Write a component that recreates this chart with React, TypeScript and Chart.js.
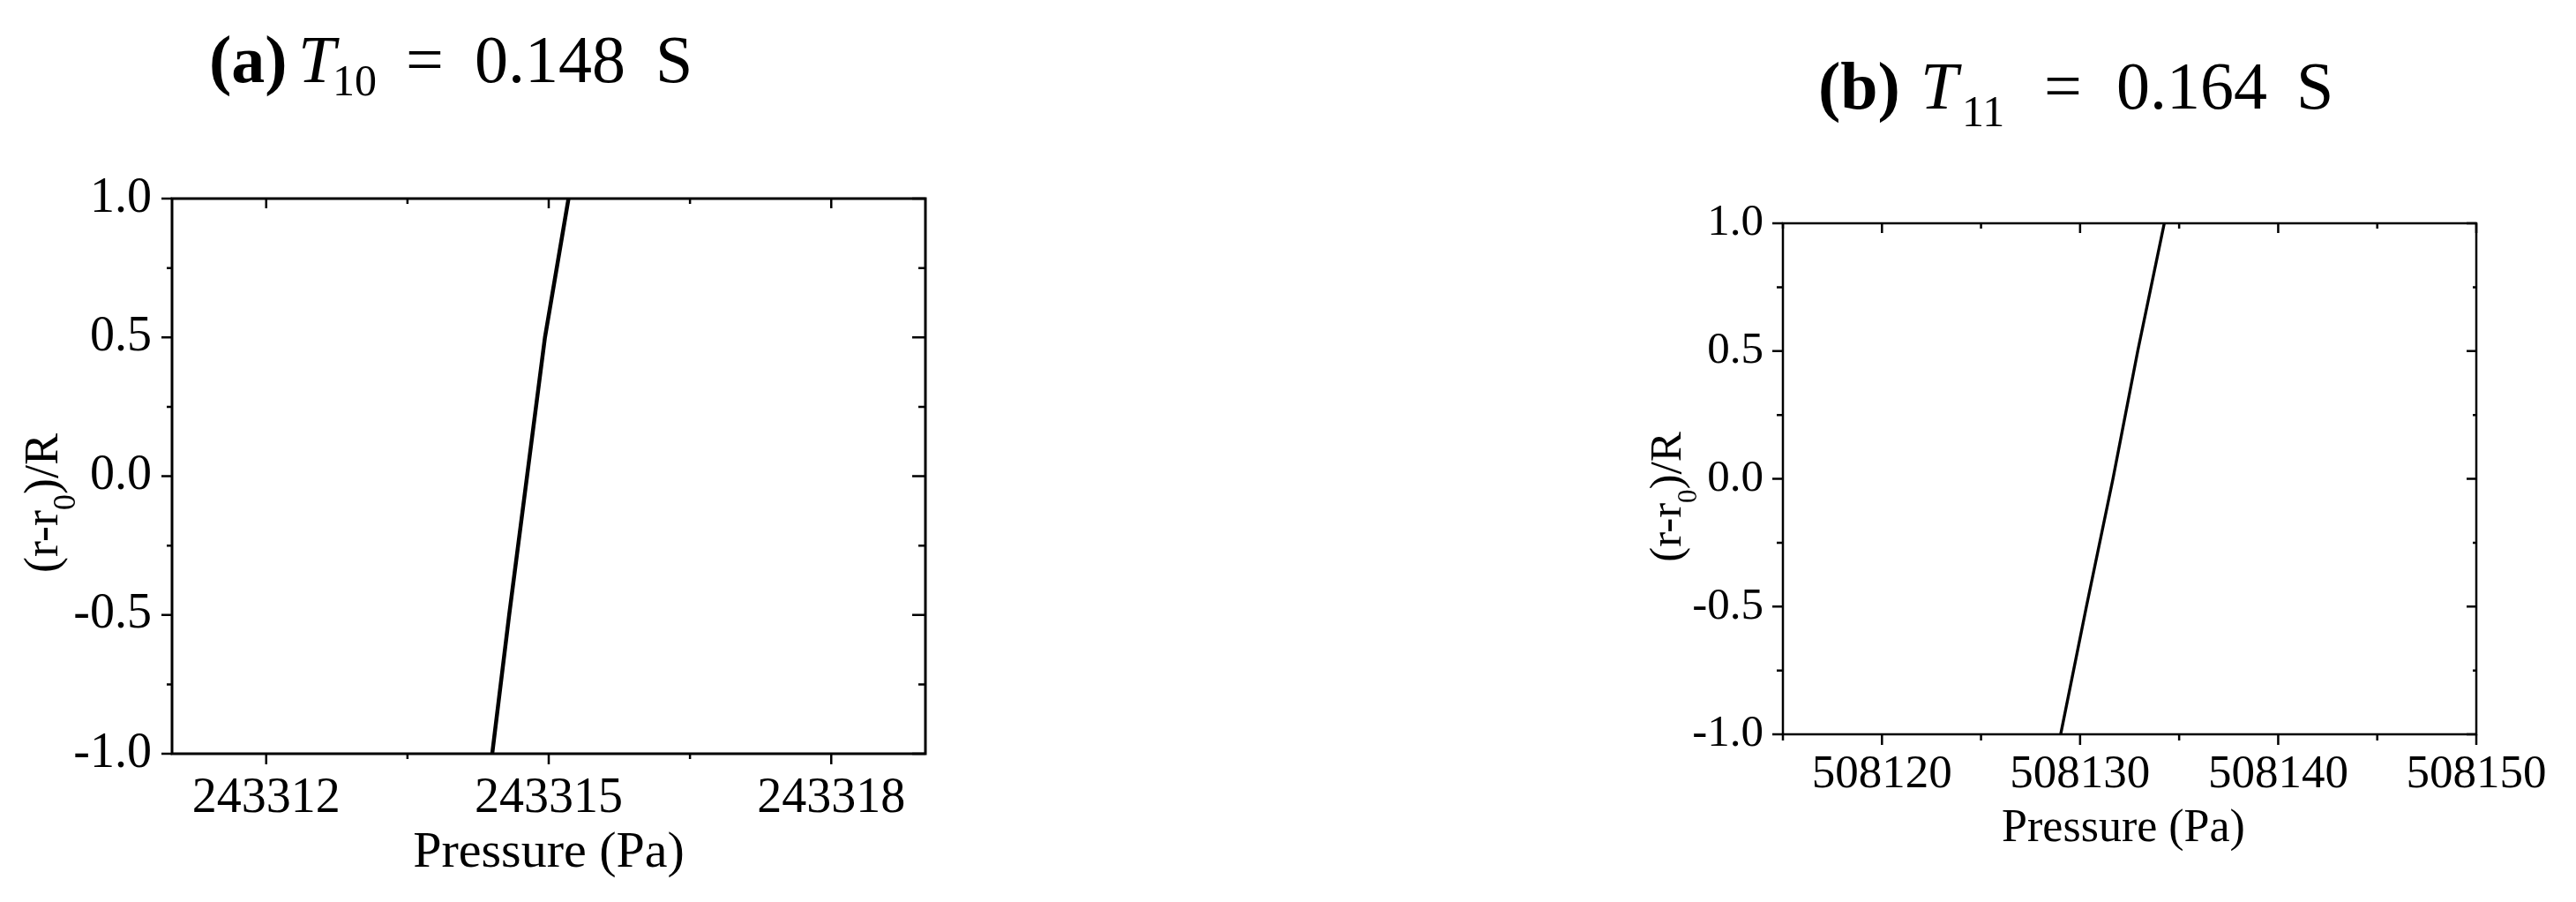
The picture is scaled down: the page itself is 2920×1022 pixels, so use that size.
import React, { useEffect, useRef } from 'react';
import { Chart, registerables } from 'chart.js';

Chart.register(...registerables);

// ---------- Data ----------
// Panel (a): T10 = 0.148 s
const pressureA = [243314.4, 243314.58, 243314.77, 243314.96, 243315.21];
const radiusA = [-1.0, -0.5, 0.0, 0.5, 1.0];
const xMajorA = [243312, 243315, 243318];
const xMinorA = [243313.5, 243316.5];

// Panel (b): T11 = 0.164 s
const pressureB = [508129.02, 508130.32, 508131.66, 508132.91, 508134.25];
const radiusB = [-1.0, -0.5, 0.0, 0.5, 1.0];
const xMajorB = [508120, 508130, 508140, 508150];
const xMinorB = [508115, 508125, 508135, 508145];

// shared y ticks
const yMajor = [-1.0, -0.5, 0.0, 0.5, 1.0];
const yMinor = [-0.75, -0.25, 0.25, 0.75];

const xAxisTitle = 'Pressure (Pa)';
const yTitleParts = ['(r-r', '0', ')/R'];

const FONT = '"Liberation Serif", "Times New Roman", serif';

type Seg = { t: string; x: number; y: number; size: number; style: string };

type Spec = {
  left: number;
  width: number;
  height: number;
  padTop: number;
  padRight: number;
  yAxisWidth: number;
  xAxisHeight: number;
  xMin: number;
  xMax: number;
  pressure: number[];
  radius: number[];
  xMajor: number[];
  xMinor: number[];
  frameWidth: number;
  lineWidth: number;
  tickWidth: number;
  tick: {
    leftMajor: number; leftMinor: number;
    bottomMajor: number; bottomMinor: number;
    topMajor: number; topMinor: number;
    rightMajor: number; rightMinor: number;
  };
  xTickFont: number;
  yTickFont: number;
  xTickPad: number;
  yTickPad: number;
  xTitle: { size: number; cx: number; baseline: number };
  yTitle: { size: number; bx: number; cy: number; subSize: number; subOffset: number };
  title: Seg[]; // page coordinates
};

const specA: Spec = {
  left: 0,
  width: 1460,
  height: 1022,
  padTop: 225,
  padRight: 411,
  yAxisWidth: 195,
  xAxisHeight: 168,
  xMin: 243311,
  xMax: 243319,
  pressure: pressureA,
  radius: radiusA,
  xMajor: xMajorA,
  xMinor: xMinorA,
  frameWidth: 3,
  lineWidth: 4.5,
  tickWidth: 2.5,
  tick: {
    leftMajor: 12, leftMinor: 6,
    bottomMajor: 12, bottomMinor: 6,
    topMajor: 11, topMinor: 6,
    rightMajor: 15, rightMinor: 8,
  },
  xTickFont: 56,
  yTickFont: 56,
  xTickPad: 23,
  yTickPad: 23,
  xTitle: { size: 58, cx: 622, baseline: 982 },
  yTitle: { size: 54, bx: 65, cy: 570, subSize: 36, subOffset: 20 },
  title: [
    { t: '(a)', x: 237, y: 93, size: 76, style: 'bold' },
    { t: 'T', x: 338, y: 93, size: 76, style: 'italic' },
    { t: '10', x: 377, y: 108, size: 50, style: 'normal' },
    { t: '=', x: 460, y: 93, size: 76, style: 'normal' },
    { t: '0.148', x: 538, y: 93, size: 76, style: 'normal' },
    { t: 'S', x: 743, y: 93, size: 76, style: 'normal' },
  ],
};

const specB: Spec = {
  left: 1460,
  width: 1460,
  height: 1022,
  padTop: 253,
  padRight: 113,
  yAxisWidth: 561,
  xAxisHeight: 190,
  xMin: 508115,
  xMax: 508150,
  pressure: pressureB,
  radius: radiusB,
  xMajor: xMajorB,
  xMinor: xMinorB,
  frameWidth: 2.5,
  lineWidth: 3.4,
  tickWidth: 2.5,
  tick: {
    leftMajor: 12, leftMinor: 7,
    bottomMajor: 12, bottomMinor: 7,
    topMajor: 11, topMinor: 6,
    rightMajor: 11, rightMinor: 4,
  },
  xTickFont: 53,
  yTickFont: 51,
  xTickPad: 20,
  yTickPad: 22,
  xTitle: { size: 52, cx: 947, baseline: 953 },
  yTitle: { size: 51, bx: 445, cy: 563, subSize: 31, subOffset: 18 },
  title: [
    { t: '(b)', x: 2061, y: 123, size: 76, style: 'bold' },
    { t: 'T', x: 2177, y: 123, size: 76, style: 'italic' },
    { t: '11', x: 2224, y: 143, size: 50, style: 'normal' },
    { t: '=', x: 2317, y: 123, size: 76, style: 'normal' },
    { t: '0.164', x: 2399, y: 123, size: 76, style: 'normal' },
    { t: 'S', x: 2603, y: 123, size: 76, style: 'normal' },
  ],
};

function makePlugin(spec: Spec) {
  return {
    id: 'frameTicks',
    afterDraw(chart: any) {
      const { ctx, chartArea: a, scales } = chart;
      const xs = scales.x;
      const ys = scales.y;
      const tk = spec.tick;
      ctx.save();
      ctx.strokeStyle = '#000';
      ctx.lineCap = 'butt';
      ctx.lineWidth = spec.tickWidth;
      ctx.beginPath();
      xs.ticks.forEach((t: any) => {
        const px = xs.getPixelForValue(t.value);
        const major = spec.xMajor.includes(t.value);
        ctx.moveTo(px, a.bottom);
        ctx.lineTo(px, a.bottom + (major ? tk.bottomMajor : tk.bottomMinor));
        ctx.moveTo(px, a.top);
        ctx.lineTo(px, a.top + (major ? tk.topMajor : tk.topMinor));
      });
      ys.ticks.forEach((t: any) => {
        const py = ys.getPixelForValue(t.value);
        const major = yMajor.includes(t.value);
        ctx.moveTo(a.left, py);
        ctx.lineTo(a.left - (major ? tk.leftMajor : tk.leftMinor), py);
        ctx.moveTo(a.right, py);
        ctx.lineTo(a.right - (major ? tk.rightMajor : tk.rightMinor), py);
      });
      ctx.stroke();

      ctx.lineWidth = spec.frameWidth;
      ctx.strokeRect(a.left, a.top, a.right - a.left, a.bottom - a.top);

      ctx.fillStyle = '#000';
      ctx.textBaseline = 'alphabetic';

      // panel title (page coordinates -> canvas coordinates)
      ctx.textAlign = 'left';
      spec.title.forEach((s) => {
        ctx.font = `${s.style} ${s.size}px ${FONT}`;
        ctx.fillText(s.t, s.x - spec.left, s.y);
      });

      // x-axis title
      ctx.textAlign = 'center';
      ctx.font = `normal ${spec.xTitle.size}px ${FONT}`;
      ctx.fillText(xAxisTitle, spec.xTitle.cx, spec.xTitle.baseline);

      // y-axis title with subscript, rotated
      const yt = spec.yTitle;
      const mainFont = `normal ${yt.size}px ${FONT}`;
      const subFont = `normal ${yt.subSize}px ${FONT}`;
      ctx.font = mainFont;
      const w0 = ctx.measureText(yTitleParts[0]).width;
      const w2 = ctx.measureText(yTitleParts[2]).width;
      ctx.font = subFont;
      const w1 = ctx.measureText(yTitleParts[1]).width;
      const total = w0 + w1 + w2;
      ctx.translate(yt.bx, yt.cy);
      ctx.rotate(-Math.PI / 2);
      ctx.textAlign = 'left';
      let x0 = -total / 2;
      ctx.font = mainFont;
      ctx.fillText(yTitleParts[0], x0, 0);
      x0 += w0;
      ctx.font = subFont;
      ctx.fillText(yTitleParts[1], x0, yt.subOffset);
      x0 += w1;
      ctx.font = mainFont;
      ctx.fillText(yTitleParts[2], x0, 0);
      ctx.restore();
    },
  };
}

function buildConfig(spec: Spec): any {
  const points = spec.pressure.map((p, i) => ({ x: p, y: spec.radius[i] }));
  return {
    type: 'scatter',
    data: {
      datasets: [
        {
          data: points,
          showLine: true,
          borderColor: '#000',
          backgroundColor: '#000',
          borderWidth: spec.lineWidth,
          pointRadius: 0,
          pointHoverRadius: 0,
          tension: 0,
        },
      ],
    },
    options: {
      responsive: false,
      animation: false,
      devicePixelRatio: 1,
      events: [],
      layout: { padding: { top: spec.padTop, right: spec.padRight, left: 0, bottom: 0 } },
      plugins: { legend: { display: false }, tooltip: { enabled: false }, title: { display: false } },
      scales: {
        x: {
          type: 'linear',
          position: 'bottom',
          min: spec.xMin,
          max: spec.xMax,
          afterBuildTicks: (s: any) => {
            s.ticks = [...spec.xMajor, ...spec.xMinor]
              .sort((p, q) => p - q)
              .map((v) => ({ value: v }));
          },
          afterFit: (s: any) => {
            s.height = spec.xAxisHeight;
          },
          grid: { display: false, drawTicks: false },
          border: { display: false },
          ticks: {
            autoSkip: false,
            maxRotation: 0,
            minRotation: 0,
            padding: spec.xTickPad,
            color: '#000',
            font: { family: FONT, size: spec.xTickFont, lineHeight: 1 },
            callback: (v: number) => (spec.xMajor.includes(v) ? String(v) : ''),
          },
        },
        y: {
          type: 'linear',
          position: 'left',
          min: -1,
          max: 1,
          afterBuildTicks: (s: any) => {
            s.ticks = [...yMajor, ...yMinor].sort((p, q) => p - q).map((v) => ({ value: v }));
          },
          afterFit: (s: any) => {
            s.width = spec.yAxisWidth;
          },
          grid: { display: false, drawTicks: false },
          border: { display: false },
          ticks: {
            autoSkip: false,
            padding: spec.yTickPad,
            color: '#000',
            font: { family: FONT, size: spec.yTickFont, lineHeight: 1 },
            callback: (v: number) => (yMajor.includes(v) ? v.toFixed(1) : ''),
          },
        },
      },
    },
    plugins: [makePlugin(spec)],
  };
}

function Panel({ spec }: { spec: Spec }) {
  const ref = useRef<HTMLCanvasElement | null>(null);
  useEffect(() => {
    if (!ref.current) return;
    const chart = new Chart(ref.current, buildConfig(spec));
    return () => chart.destroy();
  }, [spec]);
  return (
    <canvas
      ref={ref}
      width={spec.width}
      height={spec.height}
      style={{
        position: 'absolute',
        left: spec.left,
        top: 0,
        width: spec.width,
        height: spec.height,
        display: 'block',
      }}
    />
  );
}

export default function App() {
  return (
    <div
      style={{
        position: 'absolute',
        left: 0,
        top: 0,
        width: 2920,
        height: 1022,
        background: '#ffffff',
        overflow: 'hidden',
      }}
    >
      <Panel spec={specA} />
      <Panel spec={specB} />
    </div>
  );
}
